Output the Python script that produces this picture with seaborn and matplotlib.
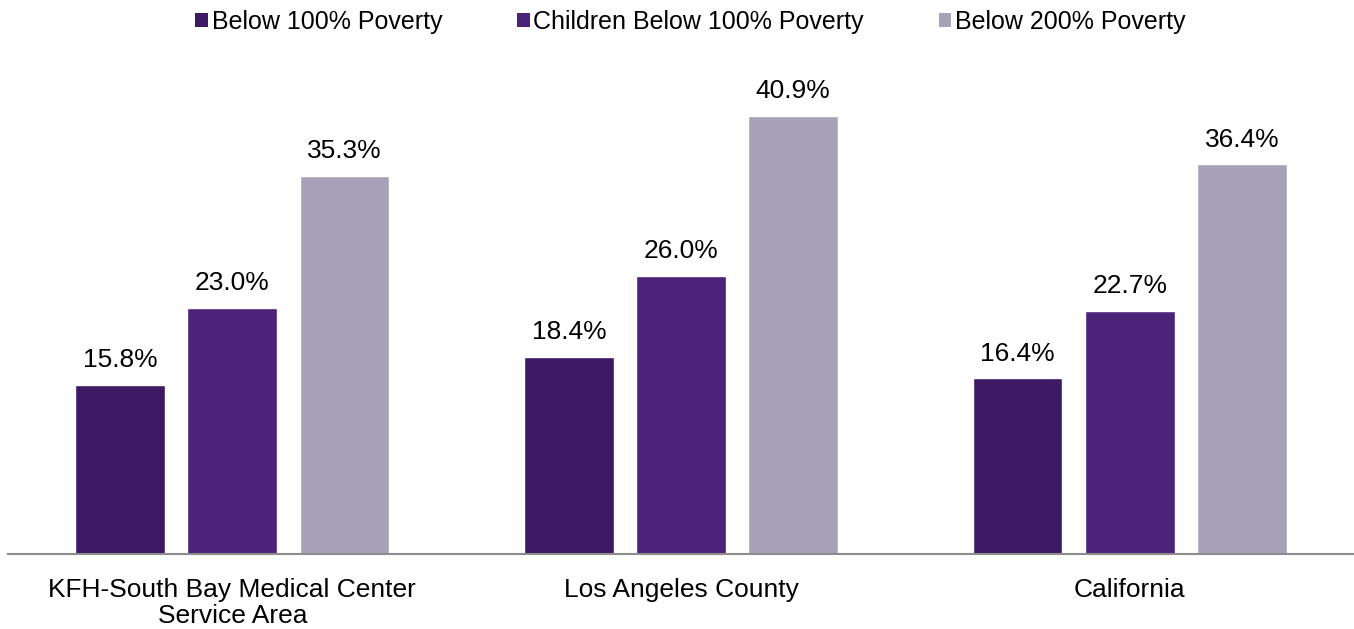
import matplotlib
matplotlib.use("Agg")
import matplotlib.pyplot as plt
import seaborn as sns
import pandas as pd

categories = ["KFH-South Bay Medical Center\nService Area", "Los Angeles County", "California"]
series = ["Below 100% Poverty", "Children Below 100% Poverty", "Below 200% Poverty"]
below100 = [15.8, 18.4, 16.4]
children100 = [23.0, 26.0, 22.7]
below200 = [35.3, 40.9, 36.4]
colors = ["#3D1A63", "#4B2479", "#A7A2B8"]

rows = []
for cat, a, b, c in zip(categories, below100, children100, below200):
    rows.append((cat, series[0], a))
    rows.append((cat, series[1], b))
    rows.append((cat, series[2], c))
df = pd.DataFrame(rows, columns=["area", "series", "value"])

sns.set_theme(style="white")
plt.rcParams["font.family"] = ["Liberation Sans", "DejaVu Sans"]
plt.rcParams["text.color"] = "#000000"

fig = plt.figure(figsize=(13.54, 6.29), dpi=100)
ax = fig.add_axes([8/1354, 75/629, 1346/1354, 482/629])
sns.barplot(data=df, x="area", y="value", hue="series", palette=colors,
            width=0.75, gap=0.2, saturation=1, ax=ax, legend=False, errorbar=None)

for cont in ax.containers:
    ax.bar_label(cont, labels=[f"{v:.1f}%" for v in cont.datavalues],
                 padding=9, fontsize=19, color="#000000")

ax.set_ylim(0, 45)
ax.set_xlim(-0.5, 2.5)
ax.set_xlabel("")
ax.set_ylabel("")
ax.set_yticks([])
for s in ["top", "right", "left"]:
    ax.spines[s].set_visible(False)
ax.spines["bottom"].set_color("#8C8C8C")
ax.spines["bottom"].set_linewidth(1.5)
ax.tick_params(axis="x", length=0, labelsize=19, labelcolor="#000000", pad=17)
for t in ax.get_xticklabels():
    t.set_linespacing(1.15)

from matplotlib.patches import Patch
handles = [Patch(facecolor=c, edgecolor="none") for c in colors]
fig.legend(handles, series, loc="center", bbox_to_anchor=(0.51, 0.965), ncol=3,
           frameon=False, fontsize=18, handlelength=0.5, handleheight=0.5,
           handletextpad=0.15, columnspacing=3.0, labelcolor="#000000")

fig.savefig("out.png", dpi=100)
